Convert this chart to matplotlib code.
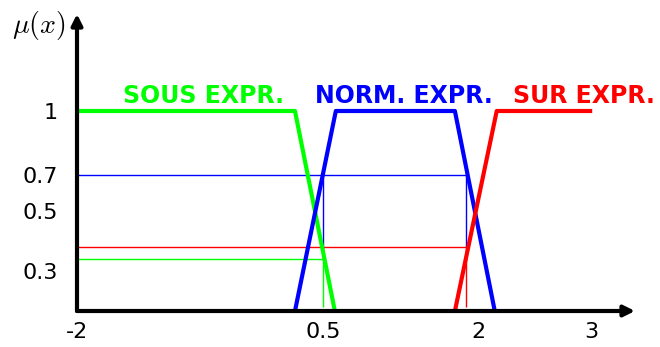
import matplotlib.pyplot as plt

# membership functions (breakpoints)
sous_x = [-2, 0.215, 0.62]
sous_y = [1, 1, 0]
norm_x = [0.215, 0.63, 1.84, 2.245]
norm_y = [0, 1, 1, 0]
sur_x = [1.84, 2.265, 3.235]
sur_y = [0, 1, 1]

# reading points
x_cuts = [0.5, 1.95]
lvl_norm = 0.68
lvl_sous = 0.26
lvl_sur = 0.32

xtick_pos = [-2, 0.5, 2.08, 3.23]
xtick_lab = ["-2", "0.5", "2", "3"]
ytick_pos = [1, 0.68, 0.5, 0.2]
ytick_lab = ["1", "0.7", "0.5", "0.3"]

GREEN, BLUE, RED = "#00ff00", "#0000ff", "#ff0000"

plt.rcParams["mathtext.fontset"] = "cm"

fig = plt.figure(figsize=(6.6, 3.47), dpi=100)
ax = fig.add_axes([77 / 660, 36 / 347, 558 / 660, 297 / 347])
ax.set_xlim(-2, 3.67)
ax.set_ylim(0, 1.485)

# thin guide lines
x0, x1 = x_cuts
thin = dict(lw=1.0, solid_capstyle="butt")
ax.plot([-2, x1], [lvl_norm, lvl_norm], color=BLUE, **thin)
ax.plot([-2, x1], [lvl_sur, lvl_sur], color=RED, **thin)
ax.plot([-2, x0], [lvl_sous, lvl_sous], color=GREEN, **thin)
ax.plot([x0, x0], [lvl_sous, lvl_norm], color=BLUE, **thin)
ax.plot([x0, x0], [0.02, lvl_sous], color=GREEN, **thin)
ax.plot([x1, x1], [lvl_sur, lvl_norm], color=BLUE, **thin)
ax.plot([x1, x1], [0.02, lvl_sur], color=RED, **thin)

# membership curves
ax.plot(sous_x, sous_y, color=GREEN, lw=3, solid_capstyle="butt")
ax.plot(norm_x, norm_y, color=BLUE, lw=3, solid_capstyle="butt")
ax.plot(sur_x, sur_y, color=RED, lw=3, solid_capstyle="butt")

lab_kw = dict(fontsize=17, fontweight="bold", va="center", ha="left")
ax.text(-1.53, 1.075, "SOUS EXPR.", color=GREEN, **lab_kw)
ax.text(0.42, 1.075, "NORM. EXPR.", color=BLUE, **lab_kw)
ax.text(2.43, 1.075, "SUR EXPR.", color=RED, **lab_kw)

# axes with arrows
for s in ax.spines.values():
    s.set_visible(False)
arr = dict(arrowstyle="-|>", lw=3, color="k", mutation_scale=16,
           shrinkA=0, shrinkB=0)
ax.annotate("", xy=(1, 0), xytext=(0, 0), xycoords="axes fraction",
            arrowprops=arr, annotation_clip=False)
ax.annotate("", xy=(0, 1), xytext=(0, 0), xycoords="axes fraction",
            arrowprops=arr, annotation_clip=False)

ax.set_xticks(xtick_pos, xtick_lab, fontsize=16)
ax.set_yticks(ytick_pos, ytick_lab, fontsize=16)
ax.tick_params(length=0)
ax.tick_params(axis="x", pad=8)
ax.tick_params(axis="y", pad=14)

fig.text(12 / 660, 1 - 25 / 347, r"$\mu(x)$", fontsize=20, va="center", ha="left")

fig.savefig("out.png", dpi=100)
